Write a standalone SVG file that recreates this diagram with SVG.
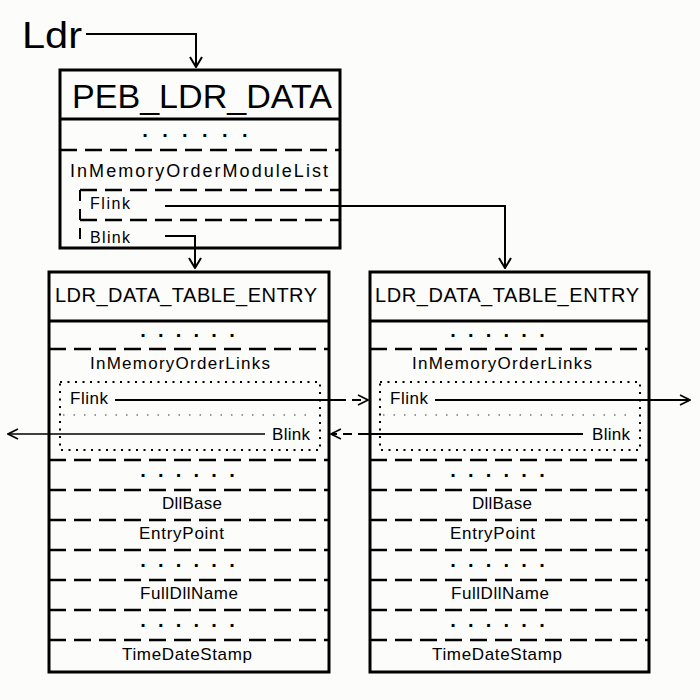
<svg xmlns="http://www.w3.org/2000/svg" width="700" height="700" viewBox="0 0 700 700">
<style>
text{font-family:"Liberation Sans","DejaVu Sans",sans-serif;fill:#000}
.box{fill:none;stroke:#000;stroke-width:3}
.solid{stroke:#000;stroke-width:3;fill:none}
.dash{stroke:#000;stroke-width:2.5;stroke-dasharray:17 8;fill:none}
.dotrect{fill:none;stroke:#000;stroke-width:2;stroke-dasharray:2 5.5}
.dotline{stroke:#777;stroke-width:1.5;stroke-dasharray:1.5 9;fill:none}
.con{stroke:#000;stroke-width:2;fill:none}
.thin{stroke:#000;stroke-width:1.4;fill:none}
.cdash{stroke:#000;stroke-width:2;fill:none;stroke-dasharray:9 6}
.dots{font-size:20px;font-weight:bold}
.f{font-size:17px}
</style>
<defs>
<marker id="arr" viewBox="0 0 12 14" markerWidth="12" markerHeight="14" refX="11" refY="7" orient="auto" markerUnits="userSpaceOnUse">
<path d="M1,1 L11,7 L1,13" fill="none" stroke="#000" stroke-width="2"/>
</marker>
<marker id="arrS" viewBox="0 0 12 12" markerWidth="12" markerHeight="12" refX="11" refY="6" orient="auto" markerUnits="userSpaceOnUse">
<path d="M1,1 L11,6 L1,11" fill="none" stroke="#000" stroke-width="1.6"/>
</marker>
</defs>
<rect width="700" height="700" fill="#fcfcfa"/>

<g id="ldr">
<text x="22" y="48" font-size="36" textLength="60" lengthAdjust="spacingAndGlyphs">Ldr</text>
</g>

<g id="peb_ldr_data">
<rect class="box" x="60" y="70" width="280" height="178"/>
<text x="72" y="108" font-size="34" textLength="260" lengthAdjust="spacingAndGlyphs">PEB_LDR_DATA</text>
<line class="solid" x1="60" y1="119" x2="340" y2="119"/>
<text class="dots" x="142.2" y="137" letter-spacing="14.4">......</text>
<line class="dash" x1="60" y1="150" x2="340" y2="150"/>
<text x="70" y="177" font-size="18" textLength="258" lengthAdjust="spacing">InMemoryOrderModuleList</text>
<line class="dash" x1="80" y1="190" x2="340" y2="190"/>
<line class="dash" x1="80" y1="220" x2="340" y2="220"/>
<line x1="80" y1="190" x2="80" y2="248" stroke="#000" stroke-width="2" stroke-dasharray="11 8"/>
<text x="90" y="209" font-size="16" textLength="40" lengthAdjust="spacing">Flink</text>
<text x="90" y="243" font-size="16" textLength="40" lengthAdjust="spacing">Blink</text>
</g>

<g id="entry1">
<rect class="box" x="49" y="272" width="280" height="400"/>
<text x="55" y="302" font-size="20" textLength="262" lengthAdjust="spacing">LDR_DATA_TABLE_ENTRY</text>
<line class="solid" x1="49" y1="321" x2="329" y2="321"/>
<text class="dots" x="140.2" y="337" letter-spacing="12.24">......</text>
<line class="dash" x1="49" y1="349" x2="329" y2="349"/>
<text class="f" x="90" y="369" textLength="180" lengthAdjust="spacing">InMemoryOrderLinks</text>
<rect class="dotrect" x="60" y="382" width="260" height="68"/>
<line class="dotline" x1="63" y1="415" x2="312" y2="415"/>
<text class="f" x="70" y="404" textLength="38" lengthAdjust="spacing">Flink</text>
<text class="f" x="272" y="440" textLength="38" lengthAdjust="spacing">Blink</text>
<line class="dash" x1="49" y1="460" x2="329" y2="460"/>
<text class="dots" x="140.2" y="477" letter-spacing="12.24">......</text>
<line class="dash" x1="49" y1="490" x2="329" y2="490"/>
<text class="f" x="162" y="509" textLength="60" lengthAdjust="spacing">DllBase</text>
<line class="dash" x1="49" y1="520" x2="329" y2="520"/>
<text class="f" x="139" y="539" textLength="85" lengthAdjust="spacing">EntryPoint</text>
<line class="dash" x1="49" y1="550" x2="329" y2="550"/>
<text class="dots" x="140.2" y="567" letter-spacing="12.24">......</text>
<line class="dash" x1="49" y1="580" x2="329" y2="580"/>
<text class="f" x="140" y="599" textLength="98" lengthAdjust="spacing">FullDllName</text>
<line class="dash" x1="49" y1="610" x2="329" y2="610"/>
<text class="dots" x="140.2" y="627" letter-spacing="12.24">......</text>
<line class="dash" x1="49" y1="640" x2="329" y2="640"/>
<text class="f" x="122" y="660" textLength="130" lengthAdjust="spacing">TimeDateStamp</text>
</g>

<g id="entry2">
<rect class="box" x="370" y="272" width="279" height="400"/>
<text x="375" y="302" font-size="20" textLength="264" lengthAdjust="spacing">LDR_DATA_TABLE_ENTRY</text>
<line class="solid" x1="370" y1="321" x2="649" y2="321"/>
<text class="dots" x="450.2" y="337" letter-spacing="12.24">......</text>
<line class="dash" x1="370" y1="349" x2="649" y2="349"/>
<text class="f" x="412" y="369" textLength="180" lengthAdjust="spacing">InMemoryOrderLinks</text>
<rect class="dotrect" x="380" y="382" width="260" height="68"/>
<line class="dotline" x1="383" y1="415" x2="632" y2="415"/>
<text class="f" x="390" y="404" textLength="38" lengthAdjust="spacing">Flink</text>
<text class="f" x="592" y="440" textLength="38" lengthAdjust="spacing">Blink</text>
<line class="dash" x1="370" y1="460" x2="649" y2="460"/>
<text class="dots" x="450.2" y="477" letter-spacing="12.24">......</text>
<line class="dash" x1="370" y1="490" x2="649" y2="490"/>
<text class="f" x="472" y="509" textLength="60" lengthAdjust="spacing">DllBase</text>
<line class="dash" x1="370" y1="520" x2="649" y2="520"/>
<text class="f" x="450" y="539" textLength="85" lengthAdjust="spacing">EntryPoint</text>
<line class="dash" x1="370" y1="550" x2="649" y2="550"/>
<text class="dots" x="450.2" y="567" letter-spacing="12.24">......</text>
<line class="dash" x1="370" y1="580" x2="649" y2="580"/>
<text class="f" x="451" y="599" textLength="98" lengthAdjust="spacing">FullDllName</text>
<line class="dash" x1="370" y1="610" x2="649" y2="610"/>
<text class="dots" x="450.2" y="627" letter-spacing="12.24">......</text>
<line class="dash" x1="370" y1="640" x2="649" y2="640"/>
<text class="f" x="432" y="660" textLength="130" lengthAdjust="spacing">TimeDateStamp</text>
</g>

<g id="connectors">
<path class="con" d="M86,34 H196 V67" marker-end="url(#arr)"/>
<path class="con" d="M165,206 H505 V268" marker-end="url(#arr)"/>
<path class="con" d="M165,236 H195 V268" marker-end="url(#arr)"/>
<path class="con" d="M115,400 H337"/>
<path class="cdash" d="M337,400 H368" marker-end="url(#arrS)"/>
<path class="thin" d="M265,434 H8" marker-end="url(#arrS)"/>
<path class="con" d="M583,434 H367"/>
<path class="cdash" d="M367,434 H331" marker-end="url(#arrS)"/>
<path class="con" d="M435,400 H690" marker-end="url(#arrS)"/>
</g>
</svg>
